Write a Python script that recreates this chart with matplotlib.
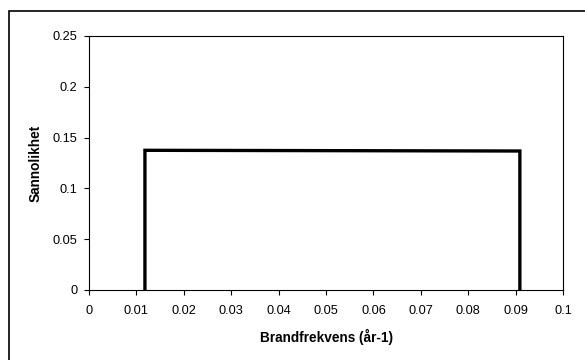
import matplotlib
matplotlib.use('Agg')
import matplotlib.pyplot as plt
from matplotlib.patches import Rectangle

# step-shaped probability curve (uniform distribution)
freq = [0.0118, 0.0118, 0.0909, 0.0909]
prob = [0.0, 0.1375, 0.1368, 0.0]
x_ticks = [0, 0.01, 0.02, 0.03, 0.04, 0.05, 0.06, 0.07, 0.08, 0.09, 0.1]
x_labels = ['0', '0.01', '0.02', '0.03', '0.04', '0.05', '0.06', '0.07', '0.08', '0.09', '0.1']
y_ticks = [0, 0.05, 0.1, 0.15, 0.2, 0.25]
y_labels = ['0', '0.05', '0.1', '0.15', '0.2', '0.25']

plt.rcParams['font.family'] = ['Liberation Sans', 'DejaVu Sans']

fig = plt.figure(figsize=(5.85, 3.6), dpi=100)
W, H = 585.0, 360.0

# outer chart-area border (runs off the right/bottom edge)
fig.patches.append(Rectangle((9 / W, -0.1), 1.2, 1 - 11 / H + 0.1, transform=fig.transFigure,
                             fill=False, edgecolor='black', linewidth=1.2, clip_on=False))

ax = fig.add_axes([89 / W, 1 - 290 / H, (563 - 89) / W, (290 - 36) / H])
ax.plot(freq, prob, color='black', linewidth=2.4, solid_joinstyle='miter')

ax.set_xlim(0, 0.1)
ax.set_ylim(0, 0.25)
ax.set_xticks(x_ticks)
ax.set_xticklabels(x_labels)
ax.set_yticks(y_ticks)
ax.set_yticklabels(y_labels)
ax.tick_params(direction='out', length=3.5, width=0.8, labelsize=9.2, colors='black')
ax.tick_params(axis='x', pad=7)
ax.tick_params(axis='y', pad=5)

for s in ax.spines.values():
    s.set_linewidth(0.8)
    s.set_color('black')

ax.set_xlabel('Brandfrekvens (år-1)', fontsize=9.8, fontweight='bold', labelpad=9)
ax.set_ylabel('Sannolikhet', fontsize=9.8, fontweight='bold', labelpad=7)

fig.savefig('out.png', dpi=100)
